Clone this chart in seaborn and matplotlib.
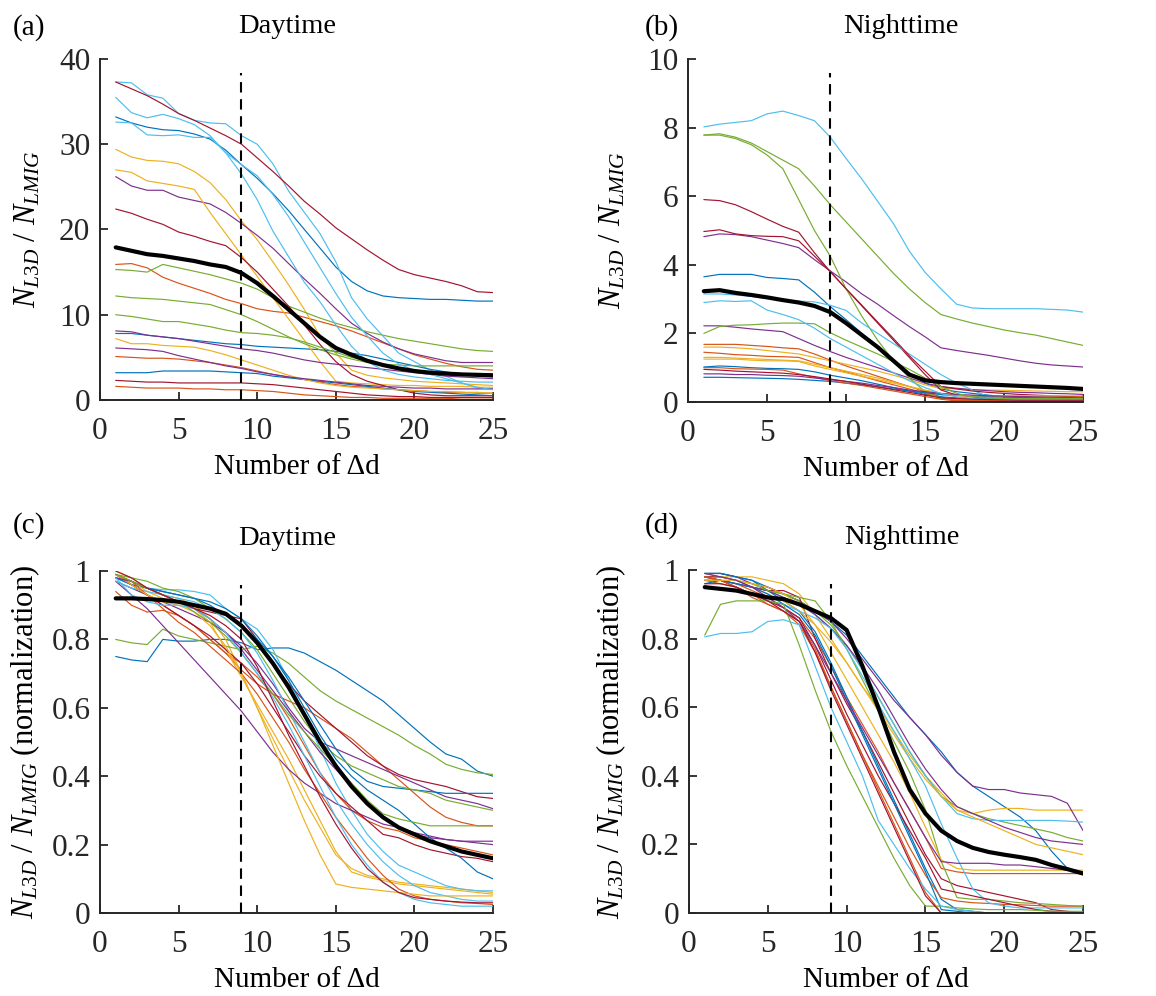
import numpy as np
import pandas as pd
import matplotlib
matplotlib.use("Agg")
import matplotlib.pyplot as plt
from matplotlib.ticker import FuncFormatter
import seaborn as sns

# ---------------- data ----------------
x_vals = list(range(1, 26))
threshold_x = 9
x_ticks = [0, 5, 10, 15, 20, 25]

C_BL, C_OR, C_YE, C_PU, C_GR, C_CY, C_DR = ("#0072BD", "#D95319", "#EDB120",
                                            "#7E2F8E", "#77AC30", "#4DBEEE", "#A2142F")

# (a) Daytime, absolute ratio
a_dr1 = [37.3,36.5,35.7,34.7,33.6,32.8,31.9,31.0,30.0,28.4,26.8,25.1,23.3,21.8,20.2,18.9,17.6,16.4,15.3,14.7,14.3,13.9,13.4,12.7,12.6]
a_cy1 = [37.3,37.2,35.8,35.4,33.6,32.8,32.5,32.4,31.0,30.0,27.7,24.5,22.0,19.5,16.2,12.0,9.5,7.5,5.5,4.5,3.5,2.8,2.0,1.4,1.3]
a_cy2 = [35.5,33.7,33.1,33.5,33.0,32.3,31.0,29.0,26.5,23.5,19.8,16.8,13.8,11.5,8.8,6.3,4.5,3.5,3.0,2.7,2.5,2.3,2.2,2.1,2.1]
a_bl1 = [33.2,32.5,32.0,31.7,31.6,31.2,30.6,29.3,27.6,26.0,24.2,22.2,20.0,17.8,15.6,13.9,12.8,12.2,12.0,11.9,11.8,11.8,11.7,11.6,11.6]
a_cy3 = [32.6,32.5,31.1,31.0,31.1,30.8,30.8,29.0,27.6,26.3,24.1,21.5,18.5,15.5,12.5,9.7,7.5,5.5,4.2,3.5,3.0,2.5,2.0,1.5,1.2]
a_ye1 = [29.4,28.5,28.1,28.0,27.7,26.8,25.5,23.5,21.0,18.8,16.2,13.5,10.6,7.5,5.5,3.5,2.9,2.6,2.4,2.2,2.1,2.0,1.9,1.8,1.7]
a_ye2 = [27.0,26.7,25.7,25.4,25.1,24.7,22.0,19.5,17.0,14.5,12.0,9.5,7.0,4.5,2.2,2.0,1.9,1.8,1.7,1.7,1.6,1.6,1.6,1.5,1.5]
a_pu1 = [26.2,25.1,24.6,24.6,23.8,23.4,23.0,22.0,20.7,19.3,17.8,16.0,14.2,12.5,10.7,9.0,7.8,6.8,6.0,5.4,5.0,4.6,4.4,4.4,4.4]
a_dr2 = [22.4,21.9,21.2,20.6,19.7,19.2,18.6,18.1,16.7,15.0,13.0,11.0,8.8,6.5,4.5,3.0,2.2,1.7,1.2,0.8,0.6,0.5,0.5,0.5,0.5]
a_or1 = [15.9,16.0,15.5,14.4,13.7,13.1,12.5,11.8,11.3,10.7,10.4,10.2,9.7,9.2,8.7,8.1,7.4,6.7,6.0,5.3,4.8,4.3,3.9,3.6,3.5]
a_gr1 = [15.3,15.2,15.0,15.9,15.5,15.1,14.7,14.2,13.7,13.0,12.0,11.0,10.3,9.6,9.0,8.5,8.0,7.6,7.2,6.9,6.6,6.3,6.0,5.8,5.7]
a_gr2 = [12.2,12.0,11.9,11.8,11.6,11.4,11.2,10.6,10.0,9.2,8.3,7.4,6.6,5.9,5.3,4.8,4.4,4.2,4.1,4.0,4.0,4.0,4.0,4.0,4.0]
a_gr3 = [10.0,9.8,9.5,9.2,9.2,8.9,8.6,8.2,7.9,7.8,7.6,7.3,6.8,6.2,5.6,5.0,4.6,4.2,3.8,3.5,3.3,3.2,3.1,3.0,3.0]
a_pu2 = [8.1,8.0,7.6,7.4,7.2,6.9,6.6,6.3,6.0,5.8,5.5,5.1,4.7,4.4,4.2,4.0,3.8,3.6,3.4,3.2,3.0,2.8,2.7,2.6,2.5]
a_bl2 = [7.8,7.8,7.6,7.4,7.2,7.0,6.8,6.6,6.5,6.3,6.2,6.1,6.0,5.9,5.7,5.5,5.2,4.8,4.4,4.0,3.6,3.3,3.0,2.8,2.7]
a_ye3 = [7.2,6.6,6.6,6.4,6.3,6.2,5.8,5.3,4.7,4.1,3.5,2.9,2.4,2.0,1.7,1.5,1.4,1.3,1.2,1.1,1.0,1.0,0.9,0.9,0.8]
a_pu3 = [6.1,6.0,5.9,5.7,5.2,4.8,4.4,4.0,3.7,3.3,3.0,2.7,2.5,2.3,2.1,1.9,1.7,1.6,1.5,1.4,1.4,1.3,1.3,1.3,1.3]
a_or2 = [5.1,5.0,4.9,4.9,4.8,4.6,4.4,4.1,3.8,3.4,3.0,2.7,2.4,2.1,1.8,1.6,1.5,1.3,1.2,1.1,1.0,0.9,0.9,0.8,0.8]
a_bl3 = [3.2,3.2,3.2,3.4,3.4,3.4,3.4,3.3,3.2,3.1,2.8,2.6,2.4,2.2,2.0,1.8,1.6,1.4,1.2,1.0,0.9,0.8,0.7,0.6,0.5]
a_dr3 = [2.3,2.2,2.1,2.1,2.0,2.0,2.0,2.0,2.0,1.9,1.8,1.6,1.4,1.2,1.0,0.8,0.6,0.5,0.4,0.4,0.3,0.3,0.3,0.3,0.3]
a_or3 = [1.6,1.5,1.4,1.4,1.4,1.3,1.3,1.2,1.2,1.1,1.0,0.8,0.6,0.5,0.4,0.3,0.3,0.2,0.2,0.2,0.2,0.2,0.1,0.1,0.1]
a_mean = [17.9,17.5,17.1,16.9,16.6,16.3,15.9,15.6,14.9,13.7,12.2,10.6,9.0,7.4,6.1,5.3,4.6,4.1,3.7,3.4,3.2,3.1,3.0,2.95,2.9]

# (b) Nighttime, absolute ratio
b_cy1 = [8.02,8.1,8.15,8.2,8.4,8.48,8.35,8.2,7.72,7.1,6.5,5.85,5.2,4.4,3.78,3.3,2.85,2.74,2.72,2.72,2.72,2.72,2.7,2.68,2.62]
b_gr1 = [7.78,7.82,7.72,7.55,7.3,7.05,6.8,6.3,5.75,5.25,4.75,4.25,3.75,3.3,2.9,2.55,2.42,2.3,2.2,2.1,2.02,1.95,1.85,1.75,1.65]
b_gr2 = [7.78,7.78,7.68,7.5,7.2,6.8,5.9,5.0,4.25,3.3,2.5,1.8,1.2,0.7,0.3,0.1,0.08,0.08,0.08,0.08,0.08,0.08,0.08,0.08,0.08]
b_dr1 = [5.9,5.87,5.75,5.55,5.33,5.12,4.95,4.35,3.8,3.3,2.8,2.3,1.8,1.3,0.8,0.35,0.2,0.15,0.1,0.08,0.06,0.05,0.05,0.05,0.05]
b_dr2 = [4.97,5.02,4.9,4.85,4.83,4.82,4.7,4.25,3.8,3.3,2.82,2.33,1.85,1.35,0.9,0.45,0.38,0.32,0.28,0.25,0.22,0.2,0.18,0.16,0.15]
b_pu1 = [4.82,4.9,4.88,4.82,4.72,4.62,4.5,4.15,3.82,3.5,3.15,2.85,2.52,2.2,1.9,1.58,1.5,1.43,1.36,1.28,1.2,1.13,1.08,1.05,1.02]
b_bl1 = [3.65,3.72,3.72,3.72,3.63,3.6,3.56,3.2,2.78,2.4,2.0,1.6,1.2,0.85,0.55,0.38,0.3,0.25,0.2,0.16,0.14,0.12,0.11,0.1,0.1]
b_cy2 = [3.15,3.15,3.12,3.08,3.02,2.97,2.94,2.92,2.82,2.67,2.3,2.0,1.7,1.4,1.1,0.8,0.55,0.35,0.15,0.08,0.05,0.05,0.05,0.05,0.05]
b_cy3 = [2.9,2.95,2.93,2.95,2.68,2.55,2.4,2.15,1.85,1.6,1.35,1.1,0.85,0.62,0.42,0.25,0.15,0.1,0.08,0.07,0.06,0.06,0.06,0.06,0.06]
b_pu2 = [2.22,2.22,2.18,2.13,2.09,2.05,1.85,1.65,1.47,1.3,1.15,1.0,0.85,0.7,0.55,0.45,0.4,0.36,0.33,0.3,0.28,0.27,0.25,0.24,0.22]
b_gr3 = [2.0,2.2,2.24,2.25,2.28,2.3,2.3,2.28,2.02,1.8,1.6,1.4,1.18,0.95,0.7,0.45,0.25,0.15,0.12,0.1,0.1,0.1,0.1,0.1,0.1]
b_or1 = [1.68,1.68,1.68,1.65,1.62,1.58,1.55,1.4,1.22,1.05,0.9,0.75,0.6,0.45,0.3,0.15,0.05,0.04,0.04,0.04,0.04,0.04,0.04,0.04,0.04]
b_ye1 = [1.6,1.6,1.58,1.55,1.5,1.45,1.4,1.3,1.2,1.1,1.0,0.9,0.78,0.65,0.5,0.4,0.38,0.36,0.35,0.34,0.33,0.32,0.31,0.3,0.3]
b_or2 = [1.45,1.42,1.38,1.36,1.33,1.32,1.3,1.15,1.0,0.88,0.75,0.62,0.5,0.38,0.25,0.12,0.05,0.04,0.03,0.03,0.03,0.03,0.03,0.03,0.03]
b_ye2 = [1.3,1.3,1.28,1.26,1.24,1.22,1.2,1.1,1.0,0.9,0.8,0.7,0.58,0.45,0.33,0.2,0.18,0.17,0.16,0.15,0.15,0.15,0.15,0.15,0.15]
b_ye3 = [1.25,1.25,1.25,1.22,1.2,1.2,1.18,1.05,0.95,0.85,0.75,0.65,0.55,0.45,0.35,0.25,0.2,0.18,0.18,0.18,0.18,0.18,0.18,0.18,0.18]
b_bl2 = [1.02,1.05,1.03,1.0,0.98,0.97,0.95,0.88,0.78,0.7,0.62,0.52,0.42,0.32,0.22,0.15,0.12,0.1,0.1,0.1,0.1,0.1,0.1,0.1,0.1]
b_or3 = [1.0,1.0,0.97,0.96,0.95,0.93,0.82,0.72,0.62,0.55,0.48,0.4,0.32,0.24,0.16,0.08,0.03,0.02,0.02,0.02,0.02,0.02,0.02,0.02,0.02]
b_pu3 = [0.82,0.82,0.8,0.8,0.78,0.77,0.75,0.7,0.65,0.6,0.55,0.48,0.42,0.35,0.3,0.25,0.22,0.2,0.18,0.17,0.16,0.15,0.14,0.13,0.12]
b_bl3 = [0.72,0.72,0.71,0.7,0.69,0.68,0.66,0.63,0.6,0.55,0.5,0.44,0.38,0.32,0.27,0.22,0.2,0.18,0.16,0.14,0.13,0.12,0.11,0.1,0.1]
b_dr3 = [0.95,0.93,0.9,0.88,0.86,0.84,0.8,0.74,0.67,0.6,0.52,0.44,0.36,0.28,0.2,0.12,0.1,0.08,0.07,0.06,0.05,0.05,0.05,0.05,0.05]
b_mean = [3.23,3.26,3.18,3.12,3.05,2.97,2.9,2.8,2.62,2.3,1.95,1.6,1.2,0.8,0.63,0.58,0.55,0.53,0.51,0.49,0.47,0.45,0.43,0.41,0.38]

# (c) Daytime, normalized
c_bl1 = [0.75,0.74,0.735,0.8,0.795,0.795,0.8,0.8,0.79,0.77,0.775,0.775,0.76,0.735,0.71,0.68,0.65,0.62,0.58,0.54,0.5,0.465,0.45,0.415,0.4]
c_gr1 = [0.8,0.79,0.785,0.83,0.81,0.8,0.79,0.78,0.77,0.78,0.76,0.73,0.69,0.65,0.62,0.595,0.57,0.545,0.52,0.49,0.465,0.435,0.42,0.41,0.405]
c_bl2 = [0.98,0.96,0.95,0.94,0.93,0.92,0.9,0.87,0.84,0.8,0.75,0.69,0.62,0.55,0.48,0.42,0.385,0.37,0.365,0.36,0.355,0.35,0.35,0.35,0.35]
c_dr1 = [0.99,0.97,0.95,0.93,0.91,0.89,0.88,0.87,0.86,0.8,0.73,0.67,0.62,0.58,0.54,0.5,0.46,0.43,0.405,0.39,0.38,0.37,0.355,0.34,0.335]
c_pu1 = [0.97,0.95,0.93,0.91,0.89,0.87,0.85,0.82,0.78,0.73,0.67,0.6,0.54,0.5,0.48,0.46,0.44,0.42,0.4,0.38,0.36,0.34,0.33,0.32,0.305]
c_gr2 = [0.99,0.98,0.97,0.95,0.94,0.92,0.89,0.86,0.82,0.77,0.7,0.63,0.56,0.5,0.46,0.43,0.41,0.39,0.37,0.36,0.35,0.33,0.32,0.31,0.3]
c_or1 = [0.99,0.96,0.93,0.9,0.87,0.84,0.8,0.76,0.71,0.67,0.64,0.62,0.6,0.57,0.54,0.51,0.47,0.43,0.39,0.35,0.31,0.28,0.265,0.255,0.255]
c_gr3 = [0.99,0.97,0.95,0.93,0.91,0.88,0.85,0.81,0.76,0.7,0.64,0.58,0.53,0.48,0.43,0.38,0.33,0.29,0.275,0.265,0.255,0.255,0.255,0.255,0.255]
c_pu2 = [0.97,0.93,0.89,0.84,0.79,0.74,0.69,0.64,0.59,0.53,0.47,0.42,0.38,0.35,0.32,0.3,0.28,0.26,0.25,0.235,0.225,0.215,0.21,0.21,0.21]
c_or2 = [0.94,0.9,0.88,0.885,0.87,0.84,0.8,0.76,0.73,0.69,0.64,0.57,0.49,0.41,0.35,0.3,0.27,0.25,0.24,0.22,0.21,0.2,0.19,0.18,0.17]
c_dr2 = [0.99,0.96,0.93,0.9,0.87,0.84,0.81,0.77,0.73,0.67,0.6,0.53,0.46,0.4,0.35,0.31,0.27,0.23,0.22,0.2,0.185,0.175,0.165,0.16,0.15]
c_pu3 = [0.98,0.97,0.95,0.93,0.91,0.89,0.86,0.82,0.77,0.71,0.65,0.59,0.53,0.47,0.42,0.37,0.32,0.28,0.25,0.23,0.22,0.215,0.21,0.205,0.2]
c_bl3 = [0.98,0.97,0.95,0.94,0.93,0.92,0.91,0.89,0.86,0.81,0.75,0.68,0.6,0.52,0.45,0.4,0.36,0.33,0.3,0.26,0.22,0.19,0.16,0.12,0.1]
c_cy1 = [0.98,0.96,0.95,0.945,0.945,0.94,0.93,0.89,0.86,0.83,0.77,0.68,0.58,0.48,0.38,0.3,0.23,0.18,0.14,0.12,0.1,0.08,0.07,0.065,0.065]
c_cy2 = [0.97,0.95,0.94,0.93,0.92,0.91,0.89,0.86,0.82,0.76,0.68,0.59,0.5,0.41,0.33,0.26,0.2,0.15,0.11,0.08,0.06,0.05,0.04,0.035,0.035]
c_cy3 = [0.98,0.93,0.91,0.9,0.9,0.89,0.86,0.82,0.76,0.7,0.63,0.55,0.46,0.37,0.28,0.2,0.14,0.09,0.06,0.04,0.03,0.025,0.02,0.02,0.02]
c_ye1 = [1.0,0.98,0.95,0.93,0.92,0.9,0.86,0.8,0.7,0.6,0.51,0.42,0.33,0.25,0.17,0.13,0.11,0.1,0.09,0.085,0.08,0.075,0.07,0.065,0.06]
c_ye2 = [0.99,0.97,0.94,0.92,0.91,0.89,0.85,0.77,0.69,0.61,0.53,0.45,0.36,0.27,0.18,0.12,0.105,0.095,0.085,0.08,0.075,0.07,0.065,0.06,0.055]
c_ye3 = [0.99,0.96,0.93,0.91,0.9,0.88,0.84,0.78,0.7,0.6,0.49,0.38,0.27,0.17,0.085,0.075,0.07,0.065,0.06,0.055,0.05,0.05,0.05,0.05,0.05]
c_dr3 = [1.0,0.98,0.95,0.93,0.91,0.89,0.87,0.84,0.8,0.72,0.62,0.52,0.43,0.34,0.26,0.19,0.13,0.09,0.06,0.045,0.04,0.035,0.032,0.03,0.03]
c_or3 = [0.99,0.97,0.93,0.89,0.85,0.82,0.78,0.74,0.7,0.64,0.57,0.5,0.42,0.35,0.28,0.22,0.16,0.11,0.07,0.05,0.04,0.035,0.03,0.028,0.025]
c_mean = [0.92,0.92,0.918,0.915,0.91,0.9,0.89,0.875,0.84,0.79,0.73,0.66,0.58,0.5,0.43,0.37,0.32,0.28,0.25,0.23,0.21,0.195,0.18,0.17,0.16]

# (d) Nighttime, normalized
d_pu1 = [0.99,0.99,0.98,0.96,0.95,0.93,0.91,0.88,0.85,0.8,0.74,0.68,0.62,0.57,0.52,0.46,0.41,0.37,0.36,0.36,0.35,0.345,0.34,0.32,0.24]
d_bl1 = [0.99,0.99,0.98,0.97,0.95,0.93,0.91,0.88,0.85,0.81,0.75,0.69,0.63,0.57,0.52,0.47,0.41,0.37,0.34,0.31,0.28,0.24,0.18,0.13,0.12]
d_ye1 = [0.98,0.98,0.98,0.98,0.97,0.96,0.93,0.87,0.8,0.73,0.66,0.6,0.53,0.46,0.4,0.35,0.3,0.29,0.3,0.305,0.305,0.3,0.3,0.3,0.3]
d_cy1 = [0.97,0.97,0.96,0.95,0.94,0.92,0.9,0.87,0.83,0.78,0.71,0.63,0.55,0.47,0.4,0.34,0.29,0.275,0.27,0.27,0.27,0.27,0.27,0.268,0.265]
d_gr1 = [0.98,0.97,0.96,0.95,0.94,0.93,0.91,0.88,0.84,0.78,0.71,0.63,0.55,0.47,0.4,0.34,0.31,0.29,0.275,0.265,0.255,0.245,0.235,0.22,0.21]
d_pu2 = [0.97,0.97,0.96,0.95,0.94,0.92,0.9,0.87,0.83,0.78,0.72,0.65,0.57,0.49,0.42,0.36,0.31,0.29,0.27,0.25,0.235,0.22,0.21,0.205,0.2]
d_ye2 = [0.98,0.97,0.96,0.95,0.93,0.91,0.88,0.84,0.79,0.73,0.66,0.59,0.52,0.45,0.39,0.34,0.3,0.28,0.26,0.24,0.22,0.2,0.19,0.18,0.17]
d_pu3 = [0.99,0.98,0.97,0.95,0.92,0.89,0.85,0.78,0.7,0.62,0.54,0.46,0.38,0.3,0.22,0.15,0.145,0.145,0.145,0.14,0.14,0.135,0.13,0.125,0.12]
d_ye3 = [0.97,0.97,0.97,0.96,0.95,0.93,0.9,0.84,0.76,0.68,0.6,0.52,0.44,0.35,0.25,0.155,0.13,0.125,0.125,0.125,0.125,0.125,0.125,0.125,0.125]
d_or1 = [0.98,0.97,0.96,0.94,0.92,0.89,0.86,0.8,0.72,0.63,0.55,0.47,0.38,0.3,0.22,0.13,0.12,0.115,0.115,0.115,0.115,0.115,0.115,0.115,0.115]
d_dr1 = [0.98,0.98,0.97,0.95,0.94,0.94,0.92,0.8,0.7,0.61,0.53,0.44,0.35,0.26,0.17,0.1,0.08,0.07,0.06,0.05,0.04,0.03,0.01,0.005,0.0]
d_gr2 = [0.99,0.98,0.97,0.96,0.94,0.93,0.92,0.91,0.85,0.77,0.68,0.59,0.5,0.41,0.3,0.15,0.045,0.04,0.04,0.035,0.03,0.028,0.025,0.022,0.02]
d_cy2 = [0.98,0.97,0.95,0.93,0.91,0.9,0.88,0.86,0.83,0.77,0.69,0.61,0.53,0.45,0.37,0.26,0.16,0.07,0.03,0.02,0.015,0.015,0.015,0.015,0.015]
d_gr3 = [0.81,0.9,0.91,0.91,0.91,0.9,0.78,0.65,0.53,0.43,0.34,0.25,0.16,0.08,0.02,0.02,0.015,0.012,0.01,0.01,0.01,0.008,0.005,0.005,0.005]
d_cy3 = [0.805,0.815,0.815,0.82,0.85,0.855,0.84,0.72,0.6,0.5,0.4,0.27,0.2,0.13,0.07,0.02,0.01,0.005,0.0,0.0,0.0,0.0,0.0,0.0,0.0]
d_bl2 = [0.99,0.99,0.98,0.97,0.94,0.91,0.88,0.82,0.73,0.63,0.53,0.43,0.33,0.23,0.13,0.04,0.01,0.005,0.0,0.0,0.0,0.0,0.0,0.0,0.0]
d_bl3 = [0.96,0.97,0.96,0.95,0.93,0.9,0.87,0.81,0.72,0.62,0.52,0.42,0.32,0.22,0.12,0.01,0.005,0.0,0.0,0.0,0.0,0.0,0.0,0.0,0.0]
d_or2 = [0.97,0.96,0.95,0.93,0.9,0.88,0.85,0.77,0.66,0.56,0.46,0.37,0.28,0.19,0.11,0.045,0.035,0.03,0.028,0.025,0.024,0.022,0.02,0.02,0.02]
d_or3 = [0.98,0.97,0.95,0.92,0.9,0.88,0.84,0.76,0.66,0.56,0.46,0.36,0.26,0.16,0.06,0.0,0.0,0.0,0.0,0.0,0.0,0.0,0.0,0.0,0.0]
d_dr2 = [0.98,0.97,0.95,0.93,0.91,0.89,0.86,0.78,0.68,0.58,0.49,0.4,0.32,0.24,0.16,0.07,0.06,0.05,0.04,0.03,0.02,0.01,0.005,0.0,0.0]
d_dr3 = [0.96,0.96,0.95,0.93,0.91,0.88,0.85,0.76,0.65,0.55,0.45,0.35,0.25,0.15,0.05,0.0,0.0,0.0,0.0,0.0,0.0,0.0,0.0,0.0,0.0]
d_mean = [0.95,0.945,0.94,0.93,0.92,0.915,0.9,0.88,0.86,0.825,0.72,0.6,0.47,0.36,0.29,0.24,0.21,0.19,0.178,0.17,0.163,0.155,0.14,0.128,0.115]

panel_a = [(a_bl1, C_BL), (a_or1, C_OR), (a_ye1, C_YE), (a_pu1, C_PU), (a_gr1, C_GR), (a_cy1, C_CY), (a_dr1, C_DR),
           (a_bl2, C_BL), (a_or2, C_OR), (a_ye2, C_YE), (a_pu2, C_PU), (a_gr2, C_GR), (a_cy2, C_CY), (a_dr2, C_DR),
           (a_bl3, C_BL), (a_or3, C_OR), (a_ye3, C_YE), (a_pu3, C_PU), (a_gr3, C_GR), (a_cy3, C_CY), (a_dr3, C_DR)]
panel_b = [(b_bl1, C_BL), (b_or1, C_OR), (b_ye1, C_YE), (b_pu1, C_PU), (b_gr1, C_GR), (b_cy1, C_CY), (b_dr1, C_DR),
           (b_bl2, C_BL), (b_or2, C_OR), (b_ye2, C_YE), (b_pu2, C_PU), (b_gr2, C_GR), (b_cy2, C_CY), (b_dr2, C_DR),
           (b_bl3, C_BL), (b_or3, C_OR), (b_ye3, C_YE), (b_pu3, C_PU), (b_gr3, C_GR), (b_cy3, C_CY), (b_dr3, C_DR)]
panel_c = [(c_bl1, C_BL), (c_or1, C_OR), (c_ye1, C_YE), (c_pu1, C_PU), (c_gr1, C_GR), (c_cy1, C_CY), (c_dr1, C_DR),
           (c_bl2, C_BL), (c_or2, C_OR), (c_ye2, C_YE), (c_pu2, C_PU), (c_gr2, C_GR), (c_cy2, C_CY), (c_dr2, C_DR),
           (c_bl3, C_BL), (c_or3, C_OR), (c_ye3, C_YE), (c_pu3, C_PU), (c_gr3, C_GR), (c_cy3, C_CY), (c_dr3, C_DR)]
panel_d = [(d_bl1, C_BL), (d_or1, C_OR), (d_ye1, C_YE), (d_pu1, C_PU), (d_gr1, C_GR), (d_cy1, C_CY), (d_dr1, C_DR),
           (d_bl2, C_BL), (d_or2, C_OR), (d_ye2, C_YE), (d_pu2, C_PU), (d_gr2, C_GR), (d_cy2, C_CY), (d_dr2, C_DR),
           (d_bl3, C_BL), (d_or3, C_OR), (d_ye3, C_YE), (d_pu3, C_PU), (d_gr3, C_GR), (d_cy3, C_CY), (d_dr3, C_DR)]

titles = ["Daytime", "Nighttime", "Daytime", "Nighttime"]
panel_tags = ["(a)", "(b)", "(c)", "(d)"]
y_ticks_abs_a = [0, 10, 20, 30, 40]
y_ticks_abs_b = [0, 2, 4, 6, 8, 10]
y_ticks_norm = [0, 0.2, 0.4, 0.6, 0.8, 1]
xlabel_text = "Number of Δd"
ylabel_abs = r"$N_{L3D}$ / $N_{LMIG}$"
ylabel_norm = r"$N_{L3D}$ / $N_{LMIG}$ (normalization)"

# ---------------- style ----------------
sns.set_style("ticks")
plt.rcParams["font.family"] = ["Liberation Serif", "DejaVu Serif"]
plt.rcParams["mathtext.fontset"] = "custom"
plt.rcParams["mathtext.rm"] = "Liberation Serif"
plt.rcParams["mathtext.it"] = "Liberation Serif:italic"
plt.rcParams["mathtext.default"] = "it"

fig = plt.figure(figsize=(11.56, 9.96), dpi=100)
positions = [
    [0.0865, 0.5984, 0.340, 0.3424],
    [0.5952, 0.5964, 0.3417, 0.3444],
    [0.0865, 0.0833, 0.340, 0.3434],
    [0.5960, 0.0833, 0.3410, 0.3444],
]
panels = [panel_a, panel_b, panel_c, panel_d]
means = [a_mean, b_mean, c_mean, d_mean]
yticks_all = [y_ticks_abs_a, y_ticks_abs_b, y_ticks_norm, y_ticks_norm]
ylabels = [ylabel_abs, ylabel_abs, ylabel_norm, ylabel_norm]
tag_pos = [(0.011, 0.972), (0.558, 0.972), (0.011, 0.472), (0.558, 0.472)]
title_x = [0.476, 0.539, 0.476, 0.539]
ylabel_x = [-0.147, -0.154, -0.147, -0.155]

for i in range(4):
    ax = fig.add_axes(positions[i])
    series = panels[i]
    rows = []
    palette = {}
    for k, (vals, col) in enumerate(series):
        name = f"s{k}"
        palette[name] = col
        for xv, yv in zip(x_vals, vals):
            rows.append((xv, yv, name))
    df = pd.DataFrame(rows, columns=["x", "y", "series"])
    sns.lineplot(data=df, x="x", y="y", hue="series", palette=palette,
                 hue_order=list(palette.keys()), legend=False, ax=ax,
                 linewidth=0.85, estimator=None, sort=False)
    dfm = pd.DataFrame({"x": x_vals, "y": means[i]})
    sns.lineplot(data=dfm, x="x", y="y", color="black", linewidth=3.0, ax=ax,
                 estimator=None, sort=False, zorder=5)
    ymax = yticks_all[i][-1]
    ax.plot([threshold_x, threshold_x], [0, 0.96 * ymax], color="black",
            linestyle=(0, (5, 3.2)), linewidth=1.5, zorder=6)

    ax.set_xlim(0, 25)
    ax.set_ylim(0, ymax)
    ax.set_xticks(x_ticks)
    ax.set_yticks(yticks_all[i])
    ax.yaxis.set_major_formatter(FuncFormatter(lambda v, p: f"{v:g}"))
    ax.tick_params(direction="in", length=6, width=1.3, labelsize=22.5,
                   colors="#262626", labelcolor="#262626")
    ax.tick_params(axis="x", pad=12)
    ax.tick_params(axis="y", pad=7)
    sns.despine(ax=ax)
    for sp in ["left", "bottom"]:
        ax.spines[sp].set_linewidth(1.4)
        ax.spines[sp].set_color("#262626")
    ax.set_xlabel(xlabel_text, fontsize=21, labelpad=6, color="black")
    ax.set_ylabel(ylabels[i], fontsize=22, color="black")
    ax.yaxis.set_label_coords(ylabel_x[i], 0.5)
    ax.set_title(titles[i], fontsize=20.5, pad=19, color="black", x=title_x[i])
    fig.text(tag_pos[i][0], tag_pos[i][1], panel_tags[i], fontsize=21,
             ha="left", va="center", color="black")

fig.savefig("out.png", dpi=100, facecolor="white")
